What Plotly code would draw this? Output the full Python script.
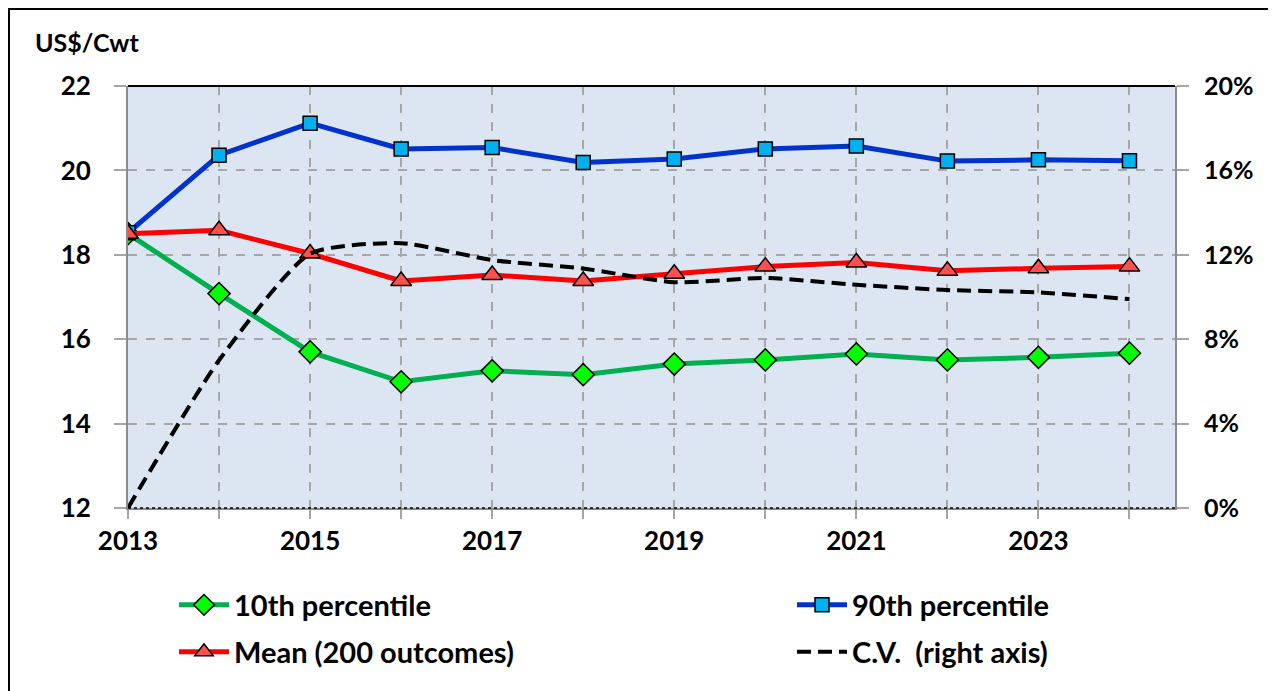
import plotly.graph_objects as go

years = list(range(2013, 2025))
p10 = [18.5, 17.08, 15.7, 14.99, 15.25, 15.16, 15.41, 15.51, 15.65, 15.51, 15.57, 15.67]
p90 = [18.52, 20.36, 21.12, 20.51, 20.54, 20.19, 20.27, 20.51, 20.58, 20.22, 20.25, 20.23]
mean = [18.5, 18.58, 18.03, 17.38, 17.52, 17.38, 17.55, 17.72, 17.82, 17.62, 17.68, 17.72]
cv = [0.0, 0.07, 0.1205, 0.1255, 0.1175, 0.1135, 0.107, 0.109, 0.1058, 0.1033, 0.1022, 0.099]

tick_text = [str(y) if y % 2 == 1 else "" for y in years]

FONT = "Lato, Calibri, Carlito, sans-serif"
GRID = "#a6a6a6"

# the page body has an 8px margin, so the figure is drawn from (8, 8)
OFF = 8
W, H = 1276 - OFF, 691 - OFF
# plot area edges in page pixels
X0, X1, Y0, Y1 = 128, 1175, 86, 508
L, R, T, B = X0 - OFF, 1276 - X1, Y0 - OFF, 691 - Y1
PW, PH = X1 - X0, Y1 - Y0


def px_x(x):
    return (x - X0) / PW


def px_y(y):
    return (Y1 - y) / PH


fig = go.Figure()

fig.add_trace(go.Scatter(
    x=years, y=p10, name="10th percentile", mode="lines+markers",
    line=dict(color="#00b050", width=5),
    marker=dict(symbol="diamond", size=17, color="#00ff00", line=dict(color="black", width=1.5)),
    legend="legend",
))
fig.add_trace(go.Scatter(
    x=years, y=p90, name="90th percentile", mode="lines+markers",
    line=dict(color="#0033cc", width=5),
    marker=dict(symbol="square", size=14, color="#00b0f0", line=dict(color="black", width=1.5)),
    legend="legend2",
))
fig.add_trace(go.Scatter(
    x=years, y=mean, name="Mean (200 outcomes)", mode="lines+markers",
    line=dict(color="#ff0000", width=5),
    marker=dict(symbol="triangle-up", size=18, color="#ff5050", line=dict(color="black", width=1.5)),
    legend="legend3",
))
fig.add_trace(go.Scatter(
    x=years, y=cv, name="C.V.  (right axis)", mode="lines", yaxis="y2",
    line=dict(color="black", width=4, dash="14px,7px", shape="spline", smoothing=0.6),
    legend="legend4",
))

leg = dict(bgcolor="rgba(0,0,0,0)", font=dict(family=FONT, size=29, color="black", weight="bold"),
           xanchor="left", yanchor="middle", itemwidth=50)

fig.update_layout(
    width=W, height=H,
    paper_bgcolor="white", plot_bgcolor="#dce6f2",
    margin=dict(l=L, r=R, t=T, b=B, autoexpand=False),
    font=dict(family=FONT, color="black"),
    showlegend=True,
    legend=dict(leg, x=px_x(174), y=px_y(605)),
    legend2=dict(leg, x=px_x(792), y=px_y(605)),
    legend3=dict(leg, x=px_x(174), y=px_y(652)),
    legend4=dict(leg, x=px_x(792), y=px_y(652)),
    xaxis=dict(
        range=[2013, 2024.5], tickvals=years, ticktext=tick_text,
        showgrid=True, gridcolor=GRID, griddash="dash", gridwidth=1.5,
        ticks="outside", ticklen=9, tickcolor=GRID, tickwidth=1.5,
        showline=True, linecolor="#8c8c8c", linewidth=2,
        tickfont=dict(family=FONT, size=26, weight="bold"),
        zeroline=False,
    ),
    yaxis=dict(
        range=[12, 22], dtick=2,
        showgrid=True, gridcolor=GRID, griddash="dash", gridwidth=1.5,
        ticks="outside", ticklen=12, tickcolor=GRID, tickwidth=1.5,
        showline=True, linecolor="#8c8c8c", linewidth=2,
        tickfont=dict(family=FONT, size=26, weight="bold"),
        ticklabelstandoff=18, zeroline=False,
    ),
    yaxis2=dict(
        range=[0, 0.2], dtick=0.04, tickformat=".0%", overlaying="y", side="right",
        showgrid=False, ticks="outside", ticklen=12, tickcolor=GRID, tickwidth=1.5,
        showline=True, linecolor="#8c8c8c", linewidth=2,
        tickfont=dict(family=FONT, size=25, weight="bold"),
        ticklabelstandoff=10, zeroline=False,
    ),
    annotations=[dict(
        text="US$/Cwt", x=px_x(33), y=px_y(42), xref="paper", yref="paper",
        xanchor="left", yanchor="middle",
        showarrow=False, font=dict(family=FONT, size=25, weight="bold"),
    )],
)

fig.add_shape(type="line", xref="paper", yref="paper", x0=0, x1=1, y0=1, y1=1,
              line=dict(color="black", width=2))
fig.add_shape(type="line", xref="paper", yref="paper", x0=0, x1=1, y0=0, y1=0,
              line=dict(color="black", width=1.5, dash="dot"))
fig.add_shape(type="rect", xref="paper", yref="paper",
              x0=px_x(OFF + 1), x1=px_x(1290), y0=px_y(700), y1=px_y(OFF + 1),
              line=dict(color="black", width=2))

fig.write_html("out.html")
